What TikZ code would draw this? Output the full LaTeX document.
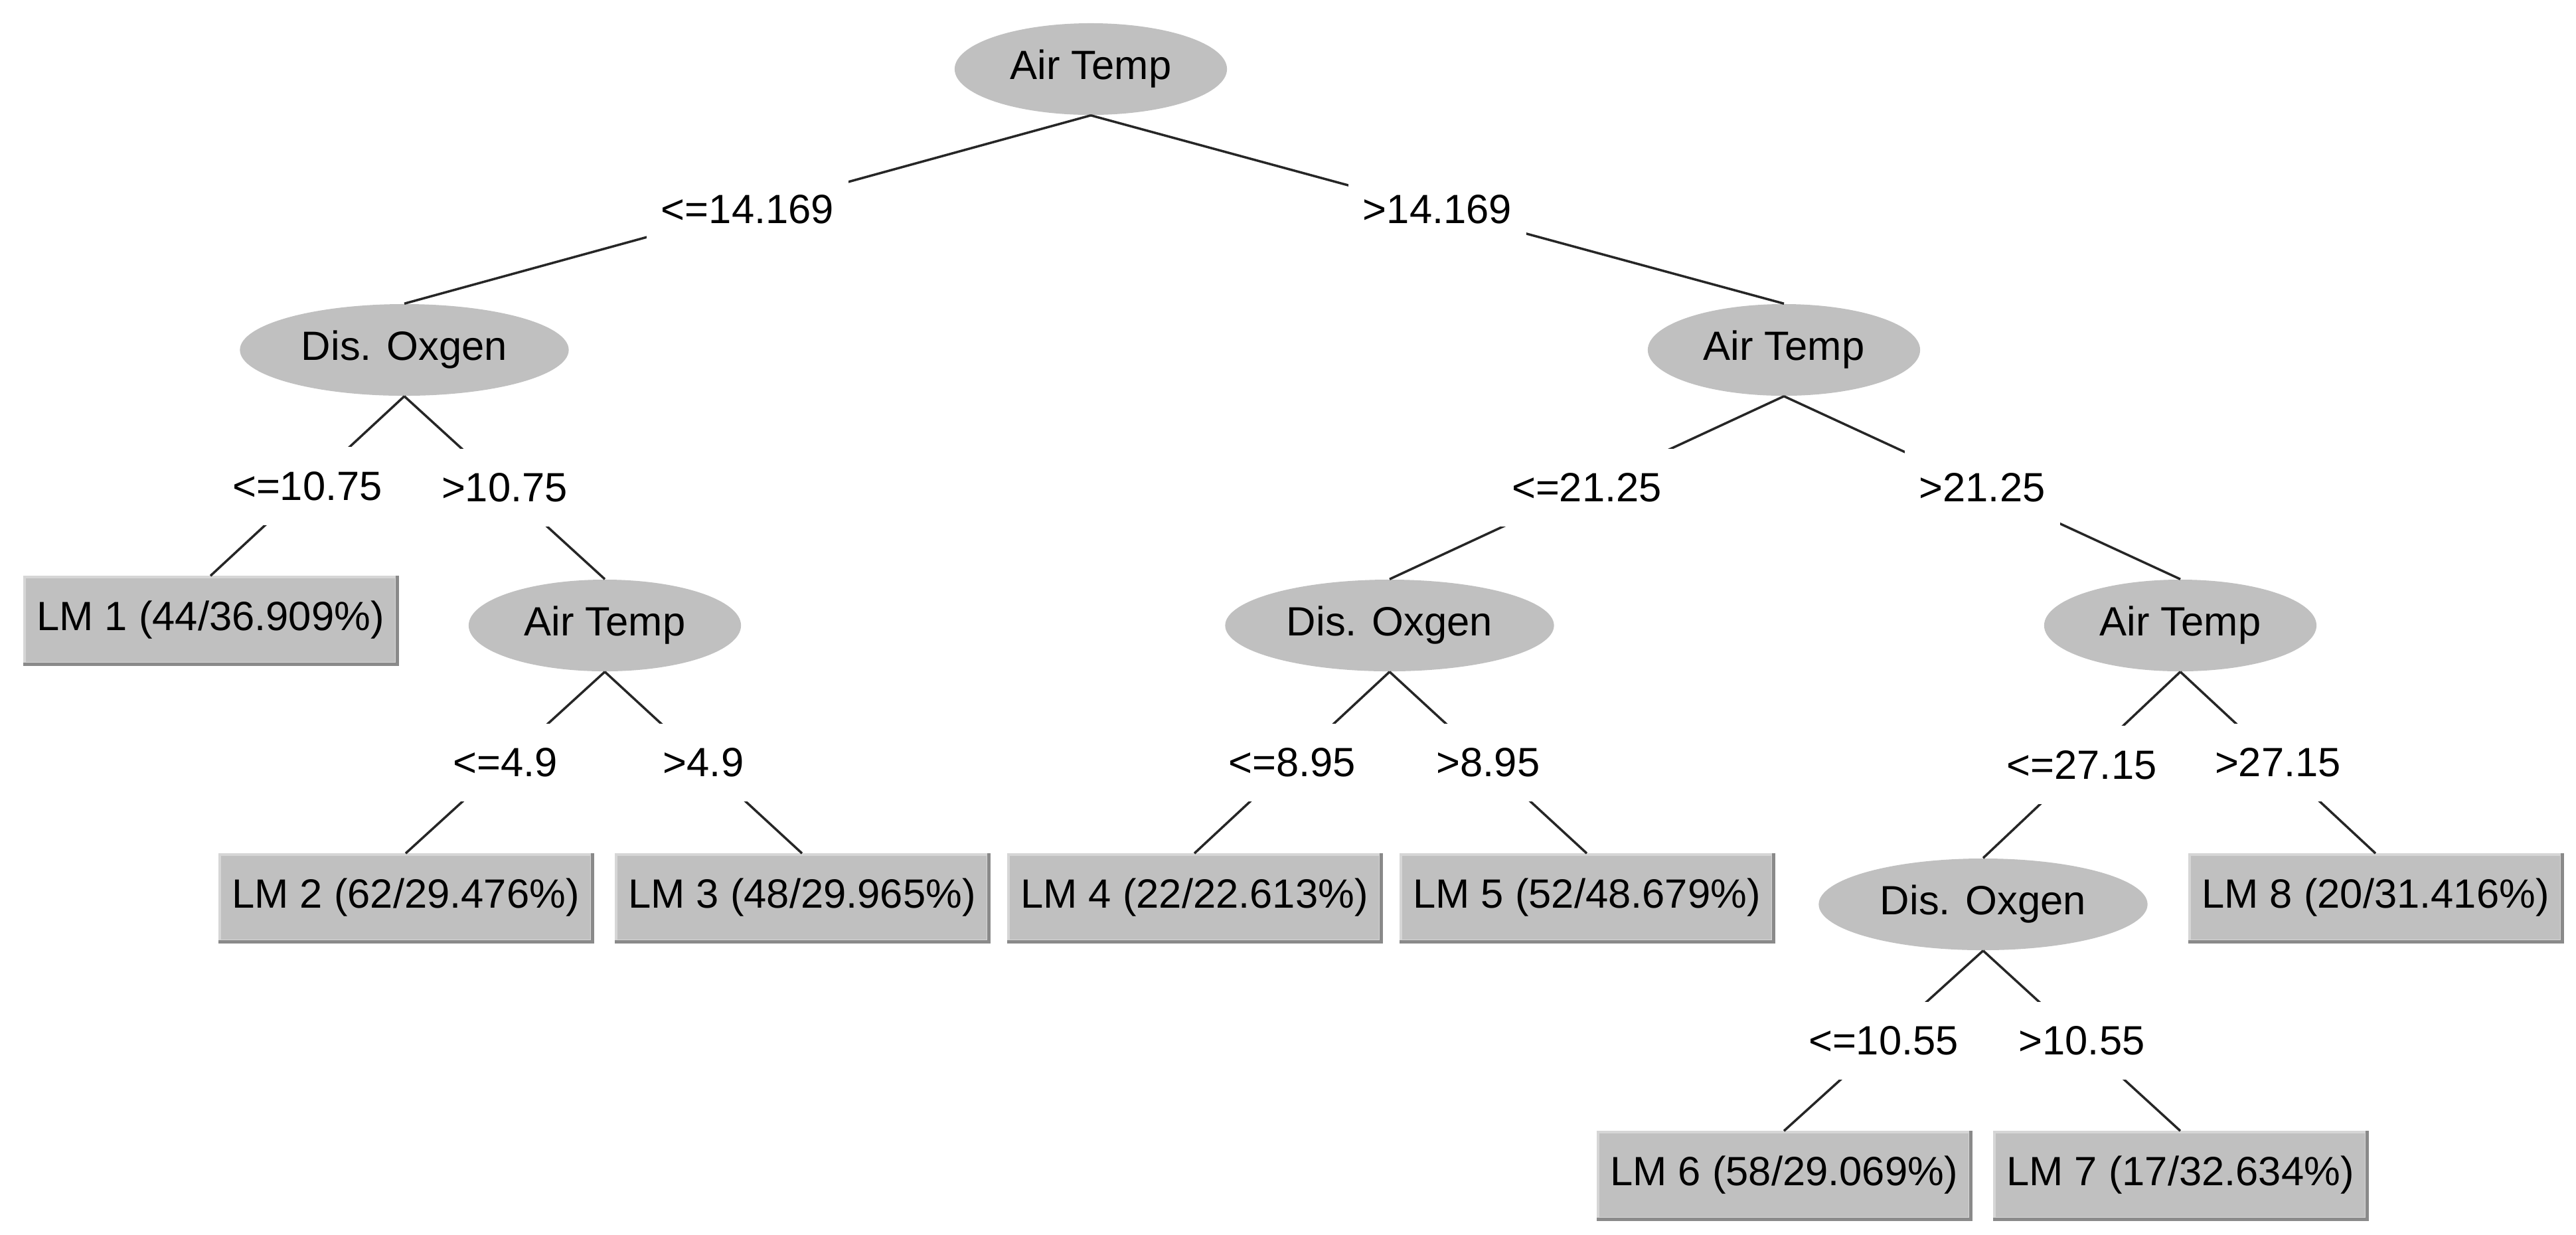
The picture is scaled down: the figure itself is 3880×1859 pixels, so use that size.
\documentclass[tikz,border=0pt]{standalone}
\usepackage{fontspec}
\setmainfont{Liberation Sans}
\usetikzlibrary{shapes.geometric}
\definecolor{nodegray}{HTML}{C0C0C0}
\definecolor{lightedge}{HTML}{D6D6D6}
\definecolor{darkedge}{HTML}{8A8A8A}
\definecolor{linecol}{HTML}{262626}
\begin{document}
\begin{tikzpicture}[x=0.01cm,y=-0.01cm,
  every node/.style={font=\fontsize{17.5}{21}\selectfont},
  split/.style={ellipse, fill=nodegray, minimum width=4.1cm, minimum height=1.38cm, inner sep=0pt},
  splitwide/.style={split, minimum width=4.95cm},
  leaf/.style={rectangle, fill=nodegray, draw=lightedge, line width=1pt, minimum width=5.6cm, minimum height=1.3cm, inner sep=0pt},
  cond/.style={fill=white, inner xsep=0.22cm, inner ysep=0pt, minimum height=1.17cm},
  conn/.style={draw=linecol, line width=1pt},
  shadeedge/.style={draw=darkedge, line width=1.4pt}]
\useasboundingbox (0,0) rectangle (3880,1859);

% split nodes
\node[split] (root) at (1643,104) {Air Temp};
\node[splitwide] (do1) at (609,527) {Dis. Oxgen};
\node[split] (at1) at (2687,527) {Air Temp};
\node[split] (at2) at (911,942) {Air Temp};
\node[splitwide] (do2) at (2093,942) {Dis. Oxgen};
\node[split] (at3) at (3284,942) {Air Temp};
\node[splitwide] (do3) at (2987,1362) {Dis. Oxgen};

% leaves
\node[leaf] (lm1) at (317,934) {LM 1 (44/36.909\%)};
\node[leaf] (lm2) at (611,1352) {LM 2 (62/29.476\%)};
\node[leaf] (lm3) at (1208,1352) {LM 3 (48/29.965\%)};
\node[leaf] (lm4) at (1799,1352) {LM 4 (22/22.613\%)};
\node[leaf] (lm5) at (2390,1352) {LM 5 (52/48.679\%)};
\node[leaf] (lm8) at (3578,1352) {LM 8 (20/31.416\%)};
\node[leaf] (lm6) at (2687,1770) {LM 6 (58/29.069\%)};
\node[leaf] (lm7) at (3284,1770) {LM 7 (17/32.634\%)};

\foreach \n in {lm1,lm2,lm3,lm4,lm5,lm6,lm7,lm8}
  \draw[shadeedge] (\n.north east) -- (\n.south east) -- (\n.south west);

% connectors with condition labels
\path[conn] (root.south) -- (do1.north) node[midway,cond] (c1) {<=14.169};
\path[conn] (root.south) -- (at1.north) node[midway,cond] (c2) {>14.169};
\path[conn] (do1.south) -- (lm1.north) node[midway,cond] (c3) {<=10.75};
\path[conn] (do1.south) -- (at2.north) node[midway,cond] (c4) {>10.75};
\path[conn] (at2.south) -- (lm2.north) node[midway,cond] (c5) {<=4.9};
\path[conn] (at2.south) -- (lm3.north) node[midway,cond] (c6) {>4.9};
\path[conn] (at1.south) -- (do2.north) node[midway,cond] (c7) {<=21.25};
\path[conn] (at1.south) -- (at3.north) node[midway,cond] (c8) {>21.25};
\path[conn] (do2.south) -- (lm4.north) node[midway,cond] (c9) {<=8.95};
\path[conn] (do2.south) -- (lm5.north) node[midway,cond] (c10) {>8.95};
\path[conn] (at3.south) -- (do3.north) node[midway,cond] (c11) {<=27.15};
\path[conn] (at3.south) -- (lm8.north) node[midway,cond] (c12) {>27.15};
\path[conn] (do3.south) -- (lm6.north) node[midway,cond] (c13) {<=10.55};
\path[conn] (do3.south) -- (lm7.north) node[midway,cond] (c14) {>10.55};
\end{tikzpicture}
\end{document}
